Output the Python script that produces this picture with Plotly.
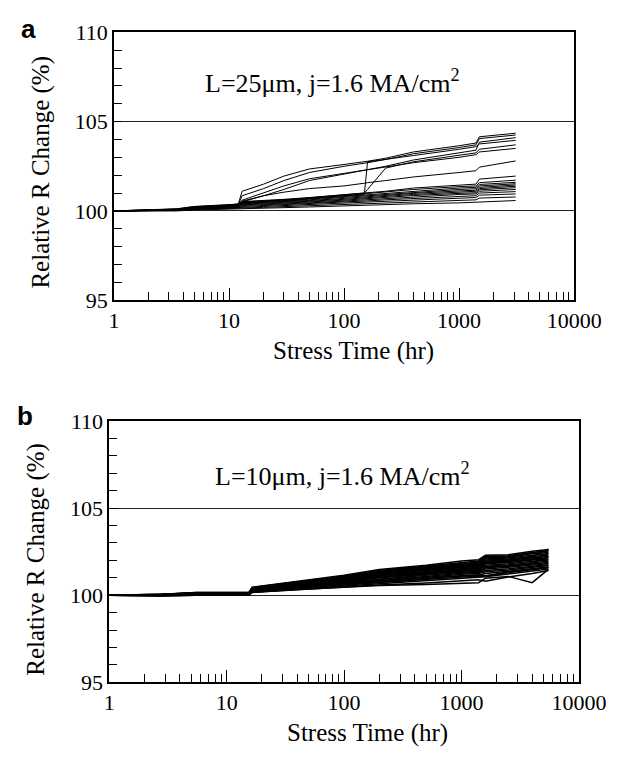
import plotly.graph_objects as go

# ---------------- data ----------------
# Panel a: L=25um, time grid (hr) and relative resistance (%) per sample
T_A = [1, 3.5, 5, 8, 12, 13, 20, 30, 50, 100, 150, 160, 230, 400, 1000, 1400, 1500, 3100]
A_CURVES = [
    [100.00, 100.00, 100.05, 100.08, 100.10, 100.12, 100.15, 100.18, 100.22, 100.28, 100.32, 100.33, 100.36, 100.40, 100.45, 100.48, 100.52, 100.58],
    [100.00, 100.02, 100.08, 100.10, 100.12, 100.16, 100.20, 100.24, 100.28, 100.35, 100.40, 100.42, 100.46, 100.52, 100.60, 100.62, 100.72, 100.78],
    [100.00, 100.03, 100.10, 100.14, 100.16, 100.20, 100.25, 100.30, 100.34, 100.42, 100.48, 100.50, 100.55, 100.62, 100.72, 100.75, 100.88, 100.95],
    [100.00, 100.05, 100.12, 100.16, 100.18, 100.25, 100.30, 100.34, 100.40, 100.48, 100.55, 100.56, 100.62, 100.70, 100.82, 100.85, 101.00, 101.08],
    [100.00, 100.06, 100.14, 100.20, 100.22, 100.30, 100.34, 100.38, 100.45, 100.55, 100.62, 100.63, 100.70, 100.80, 100.92, 100.95, 101.10, 101.20],
    [100.00, 100.04, 100.15, 100.22, 100.25, 100.34, 100.38, 100.42, 100.50, 100.60, 100.68, 100.70, 100.76, 100.86, 100.98, 101.02, 101.18, 101.30],
    [100.00, 100.08, 100.16, 100.24, 100.28, 100.38, 100.42, 100.46, 100.54, 100.65, 100.73, 100.75, 100.82, 100.92, 101.05, 101.10, 101.25, 101.38],
    [100.00, 100.06, 100.18, 100.26, 100.30, 100.42, 100.46, 100.50, 100.58, 100.70, 100.78, 100.80, 100.88, 100.98, 101.12, 101.16, 101.32, 101.45],
    [100.00, 100.10, 100.20, 100.28, 100.32, 100.45, 100.50, 100.55, 100.62, 100.76, 100.84, 100.86, 100.94, 101.05, 101.20, 101.24, 101.40, 101.52],
    [100.00, 100.08, 100.22, 100.30, 100.34, 100.48, 100.52, 100.58, 100.66, 100.80, 100.90, 100.92, 101.00, 101.12, 101.28, 101.32, 101.48, 101.60],
    [100.00, 100.10, 100.24, 100.32, 100.36, 100.50, 100.56, 100.62, 100.70, 100.86, 100.96, 100.98, 101.06, 101.20, 101.36, 101.40, 101.58, 101.72],
    [100.00, 100.12, 100.25, 100.34, 100.38, 100.52, 100.58, 100.65, 100.75, 100.92, 101.00, 101.02, 101.10, 101.28, 101.45, 101.50, 101.78, 101.95],
    [100.00, 100.05, 100.15, 100.25, 100.35, 101.10, 101.50, 101.95, 102.35, 102.60, 102.72, 102.78, 102.95, 103.30, 103.65, 103.80, 104.15, 104.35],
    [100.00, 100.04, 100.12, 100.22, 100.30, 100.85, 101.25, 101.70, 102.15, 102.50, 102.65, 102.70, 102.88, 103.20, 103.55, 103.70, 104.05, 104.25],
    [100.00, 100.06, 100.14, 100.24, 100.40, 100.50, 100.85, 101.20, 101.70, 102.05, 102.25, 102.30, 102.50, 102.85, 103.25, 103.40, 103.85, 104.10],
    [100.00, 100.05, 100.15, 100.25, 100.32, 100.42, 100.50, 100.60, 100.70, 100.85, 100.92, 102.75, 102.90, 103.10, 103.45, 103.60, 103.75, 103.95],
    [100.00, 100.03, 100.12, 100.20, 100.30, 100.40, 100.50, 100.62, 100.75, 100.90, 101.00, 101.20, 102.40, 102.75, 103.10, 103.25, 103.45, 103.70],
    [100.00, 100.04, 100.14, 100.22, 100.35, 100.55, 100.85, 101.05, 101.25, 101.40, 101.55, 101.58, 101.70, 101.90, 102.15, 102.25, 102.45, 102.80],
    [100.00, 100.05, 100.12, 100.20, 100.30, 100.60, 101.00, 101.40, 101.80, 102.10, 102.30, 102.32, 102.45, 102.70, 103.00, 103.15, 103.30, 103.50],
]

# Panel b: L=10um
T_B = [1, 2.8, 5.5, 15.5, 16.5, 40, 100, 200, 500, 1000, 1400, 1600, 2500, 4000, 5500]
B_CURVES = [
    [100.00, 99.98, 100.00, 100.02, 100.16, 100.32, 100.46, 100.56, 100.62, 100.68, 100.72, 100.98, 101.08, 100.72, 101.48],
    [100.00, 99.96, 99.99, 100.01, 100.18, 100.35, 100.50, 100.62, 100.80, 100.95, 101.00, 101.06, 101.22, 101.38, 101.50],
    [100.00, 99.97, 100.01, 100.03, 100.22, 100.40, 100.58, 100.70, 100.88, 101.05, 101.08, 101.12, 101.30, 101.45, 101.58],
    [100.00, 100.00, 100.03, 100.04, 100.25, 100.44, 100.62, 100.78, 100.95, 101.12, 101.15, 101.25, 101.38, 101.52, 101.62],
    [100.00, 99.98, 100.02, 100.05, 100.26, 100.47, 100.66, 100.84, 101.02, 101.20, 101.24, 101.35, 101.45, 101.60, 101.70],
    [100.00, 100.01, 100.04, 100.06, 100.28, 100.50, 100.70, 100.90, 101.08, 101.26, 101.30, 101.42, 101.52, 101.66, 101.75],
    [100.00, 99.99, 100.05, 100.07, 100.30, 100.52, 100.74, 100.95, 101.14, 101.32, 101.36, 101.50, 101.60, 101.74, 101.82],
    [100.00, 100.02, 100.06, 100.08, 100.31, 100.55, 100.78, 101.00, 101.20, 101.38, 101.42, 101.58, 101.66, 101.80, 101.88],
    [100.00, 100.00, 100.07, 100.09, 100.33, 100.58, 100.82, 101.05, 101.26, 101.44, 101.48, 101.65, 101.74, 101.88, 101.95],
    [100.00, 100.03, 100.08, 100.10, 100.35, 100.60, 100.86, 101.10, 101.32, 101.50, 101.55, 101.72, 101.80, 101.95, 102.02],
    [100.00, 100.01, 100.09, 100.11, 100.36, 100.62, 100.90, 101.15, 101.37, 101.56, 101.60, 101.80, 101.88, 102.02, 102.08],
    [100.00, 100.04, 100.10, 100.12, 100.38, 100.65, 100.93, 101.20, 101.42, 101.62, 101.66, 101.88, 101.95, 102.10, 102.15],
    [100.00, 100.02, 100.11, 100.12, 100.39, 100.68, 100.96, 101.24, 101.47, 101.68, 101.72, 101.95, 102.02, 102.16, 102.22],
    [100.00, 100.05, 100.12, 100.13, 100.40, 100.70, 100.99, 101.28, 101.52, 101.73, 101.78, 102.02, 102.08, 102.22, 102.30],
    [100.00, 100.03, 100.13, 100.14, 100.42, 100.73, 101.02, 101.32, 101.57, 101.78, 101.84, 102.08, 102.14, 102.30, 102.38],
    [100.00, 100.05, 100.14, 100.14, 100.43, 100.76, 101.06, 101.37, 101.62, 101.84, 101.90, 102.15, 102.20, 102.38, 102.45],
    [100.00, 100.04, 100.15, 100.15, 100.44, 100.78, 101.10, 101.42, 101.67, 101.90, 101.96, 102.22, 102.26, 102.45, 102.52],
    [100.00, 100.05, 100.15, 100.15, 100.45, 100.80, 101.14, 101.48, 101.72, 101.96, 102.04, 102.30, 102.32, 102.52, 102.62],
    [100.00, 99.97, 100.00, 100.01, 100.17, 100.33, 100.48, 100.58, 100.70, 100.82, 100.88, 100.80, 101.05, 101.25, 101.42],
    [100.00, 99.99, 100.03, 100.05, 100.27, 100.46, 100.64, 100.80, 100.98, 101.15, 101.18, 101.10, 101.32, 101.50, 101.60],
    [100.00, 100.02, 100.08, 100.10, 100.34, 100.59, 100.84, 101.08, 101.30, 101.48, 101.50, 101.85, 101.90, 102.05, 102.40],
    [100.00, 100.04, 100.12, 100.13, 100.40, 100.70, 101.00, 101.30, 101.55, 101.76, 101.80, 102.25, 102.20, 102.42, 102.58],
    [100.00, 100.01, 100.06, 100.08, 100.32, 100.56, 100.80, 101.02, 101.22, 101.40, 101.45, 101.62, 101.70, 101.85, 102.20],
    [100.00, 100.03, 100.11, 100.12, 100.38, 100.66, 100.95, 101.22, 101.45, 101.65, 101.70, 101.95, 102.00, 102.20, 102.65],
]

X_MAJOR = [1, 10, 100, 1000, 10000]
X_MAJOR_TEXT = ["1", "10", "100", "1000", "10000"]
X_MINOR = [m * d for d in [1, 10, 100, 1000] for m in range(2, 10)]
Y_RANGE = [95, 110]
LABEL_A = "L=25\u03bcm, j=1.6 MA/cm<sup>2</sup>"
LABEL_B = "L=10\u03bcm, j=1.6 MA/cm<sup>2</sup>"

# ---------------- figure ----------------
SERIF = "Liberation Serif"
SANS = "Liberation Sans"
W, H = 641, 761

fig = go.Figure()
for ys in A_CURVES:
    fig.add_trace(go.Scatter(x=T_A, y=ys, mode="lines", line=dict(color="black", width=1),
                             xaxis="x", yaxis="y", showlegend=False, hoverinfo="skip"))
for ys in B_CURVES:
    fig.add_trace(go.Scatter(x=T_B, y=ys, mode="lines", line=dict(color="black", width=1.5),
                             xaxis="x2", yaxis="y2", showlegend=False, hoverinfo="skip"))

def xaxis(domain, anchor):
    return dict(type="log", range=[0, 4], domain=domain, anchor=anchor,
                tickmode="array", tickvals=X_MAJOR, ticktext=X_MAJOR_TEXT,
                ticks="inside", ticklen=12, tickwidth=1, tickcolor="black",
                minor=dict(tickmode="array", tickvals=X_MINOR, ticks="inside", ticklen=8,
                           tickwidth=1, tickcolor="black", showgrid=False),
                showline=True, linecolor="black", linewidth=1.5, mirror=True,
                showgrid=False, zeroline=False,
                tickfont=dict(family=SERIF, size=22, color="black"))

def yaxis(domain, anchor):
    return dict(range=Y_RANGE, domain=domain, anchor=anchor, dtick=5, tick0=95,
                ticks="inside", ticklen=8, tickwidth=1, tickcolor="black",
                minor=dict(dtick=1, ticks="inside", ticklen=8, tickwidth=1,
                           tickcolor="black", showgrid=False),
                showline=True, linecolor="black", linewidth=1.5, mirror=True,
                showgrid=True, gridcolor="#222", gridwidth=1.2, zeroline=False,
                tickfont=dict(family=SERIF, size=22, color="black"))

ax_a = [114 / W, 600 / W]
ay_a = [1 - 298 / H, 1 - 21 / H]
ax_b = [109 / W, 605 / W]
ay_b = [1 - 693 / H, 1 - 423 / H]

fig.update_layout(
    width=W, height=H, margin=dict(l=0, r=0, t=0, b=0),
    paper_bgcolor="white", plot_bgcolor="white",
    font=dict(family=SERIF, color="black"),
    xaxis=xaxis(ax_a, "y"), yaxis=yaxis(ay_a, "x"),
    xaxis2=xaxis(ax_b, "y2"), yaxis2=yaxis(ay_b, "x2"),
)

ann = []
def txt(x, y, s, size, family=SERIF, angle=0, xanchor="center", yanchor="middle"):
    ann.append(dict(x=x, y=y, xref="paper", yref="paper", text=s, showarrow=False,
                    font=dict(family=family, size=size, color="black"), textangle=angle,
                    xanchor=xanchor, yanchor=yanchor))

txt(345 / W, 1 - 72 / H, LABEL_A, 26)
txt(355 / W, 1 - 478 / H, LABEL_B, 26)
txt(367 / W, 1 - 350 / H, "Stress Time (hr)", 25)
txt(382 / W, 1 - 745 / H, "Stress Time (hr)", 25)
txt(37 / W, 1 - 166 / H, "Relative R Change (%)", 25, angle=-90)
txt(32 / W, 1 - 566 / H, "Relative R Change (%)", 25, angle=-90)
txt(24 / W, 1 - 18 / H, "<b>a</b>", 26, family=SANS)
txt(20 / W, 1 - 418 / H, "<b>b</b>", 26, family=SANS)
fig.update_layout(annotations=ann)

fig.write_html("out.html")
